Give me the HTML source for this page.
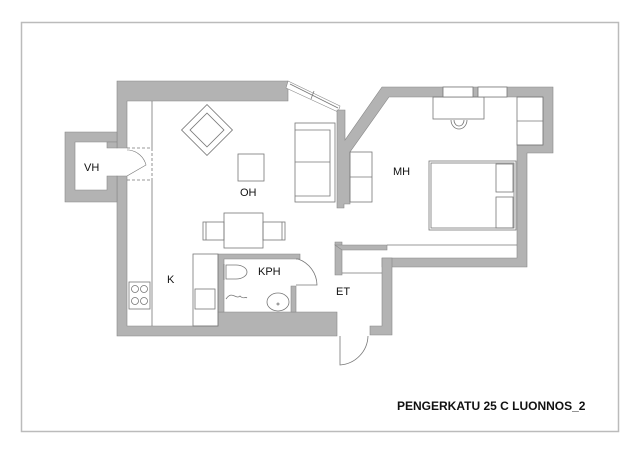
<!DOCTYPE html>
<html><head><meta charset="utf-8"><style>
html,body{margin:0;padding:0;background:#fff;}
svg{display:block}
text{font-family:"Liberation Sans",sans-serif;fill:#111}
</style></head><body>
<svg width="640" height="453" viewBox="0 0 640 453" xmlns="http://www.w3.org/2000/svg">
<rect x="21.5" y="22.5" width="597" height="409" fill="none" stroke="#bbb" stroke-width="1.5"/>
<g fill="#b3b3b3" stroke="#888" stroke-width="0.6">
<path d="M117,81 H288 V101 H127 V148 H117 Z"/>
<path d="M117,176 H127 V326 H218 V312 H337 V336 H117 Z"/>
<path d="M65,132 H117 V142 H75 V190 H107 V176 H117 V202 H65 Z"/>
<path d="M107,142 H117 V148 H107 Z"/>
<path d="M288,81 L340,106 L338,112 L286,88 Z" fill="#fff"/>
<path d="M337,110 H345 V140 L382,87 H553 V153 H527 V267 H382 V258 H517 V145 H543 V97 H389 L350,152 V204 H344 V208 H337 Z"/>
<path d="M218,254 H300 V259 H224 V312 H218 Z"/>
<path d="M291,286 H296 V312 H291 Z"/>
<path d="M382,258 H392 V335 H370 V326 H382 Z"/>
<path d="M335,242 H342 V275 H335 Z"/>
<path d="M335,245 H387 V250 H342 Z"/>
</g>
<g fill="none" stroke="#777" stroke-width="0.8">
<line x1="290" y1="84" x2="338" y2="108"/>
<line x1="314" y1="91" x2="311" y2="99"/>
<line x1="387" y1="245" x2="517" y2="245"/>
<path d="M152,101 V148 M152,180 V326"/>
<path d="M127,148 H152 M127,180 H152" stroke-dasharray="3,2"/>
<line x1="152" y1="148" x2="152" y2="180" stroke-dasharray="3,2"/>
<rect x="129" y="282" width="21" height="27"/>
<circle cx="135" cy="289" r="3.5"/><circle cx="144" cy="289" r="3.5"/>
<circle cx="135" cy="301" r="3.5"/><circle cx="144" cy="301" r="3.5"/>
<path d="M127,150 H129 A20,20 0 0 1 146,165 L127,176" stroke-width="0.6"/>
<g transform="translate(207,130) rotate(45)"><rect x="-18" y="-18" width="36" height="36"/><rect x="-12" y="-12" width="24" height="24"/></g>
<rect x="238" y="154" width="26" height="27"/>
<rect x="295" y="123" width="40" height="79"/>
<path d="M295,130 H330 V196 H295 M295,162 H330"/>
<rect x="224" y="213" width="39" height="35"/>
<rect x="203" y="222" width="21" height="18"/><rect x="263" y="222" width="22" height="18"/>
<path d="M206,222 V240 M282,222 V240"/>
<rect x="193" y="254" width="25" height="72"/>
<rect x="195" y="289" width="20" height="20"/>
<path d="M224,264 V280 M226,265 V279 H236 A11,7 0 0 0 236,265 Z"/>
<path d="M226,299 C232,290 236,300 240,296 C244,300 245,296 247,298"/>
<ellipse cx="278" cy="302" rx="11" ry="9"/>
<circle cx="278" cy="304" r="1"/>
<path d="M296,259 H298 A28,28 0 0 1 317,285 H296"/>
<path d="M340,336 V365 A30,30 0 0 0 368,336"/>
<line x1="342" y1="273" x2="382" y2="273"/>
<rect x="350" y="152" width="22" height="50"/><line x1="350" y1="177" x2="372" y2="177"/>
<rect x="433" y="97" width="51" height="22"/>
<path d="M451,120 A8,9 0 0 0 467,120 M454,120 A5,6 0 0 0 464,120"/>
<rect x="443" y="87" width="30" height="10" fill="#fff"/>
<rect x="478" y="87" width="29" height="10" fill="#fff"/>
<rect x="517" y="97" width="26" height="48"/><line x1="517" y1="121" x2="543" y2="121"/>
<rect x="429" y="161" width="87" height="69"/>
<rect x="431" y="163" width="83" height="65"/>
<rect x="496" y="164" width="17" height="28"/><rect x="496" y="197" width="17" height="31"/>
</g>
<g font-size="11">
<text x="84" y="171">VH</text>
<text x="240" y="196">OH</text>
<text x="167" y="283">K</text>
<text x="258" y="275">KPH</text>
<text x="393" y="175">MH</text>
<text x="336" y="295">ET</text>
</g>
<text x="397" y="410" font-size="12" font-weight="bold">PENGERKATU 25 C LUONNOS_2</text>
</svg>
</body></html>
